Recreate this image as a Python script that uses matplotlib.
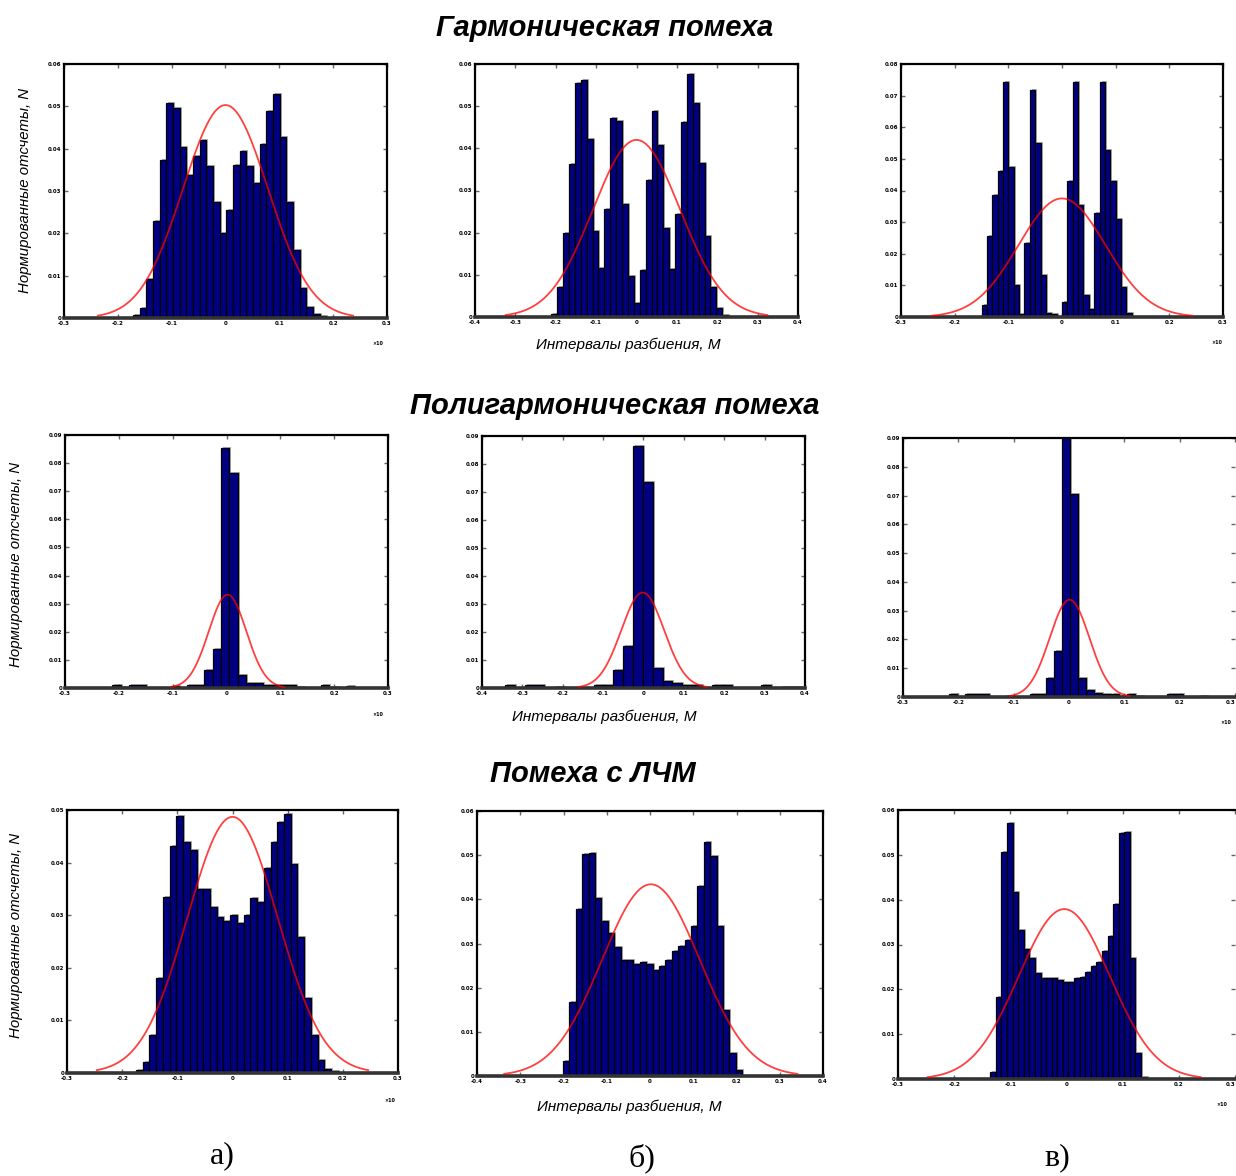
import numpy as np
import matplotlib
matplotlib.use('Agg')
import matplotlib.pyplot as plt
import matplotlib.transforms as mtransforms

# --- данные гистограмм (нормированные высоты столбцов) ---
# ряд 1: гармоническая помеха
h_1a = [0.06, 0.24, 0.93, 2.28, 3.74, 5.07, 4.97, 4.04, 3.38, 3.83, 4.20, 3.58, 2.73, 2.0, 2.56,
        3.62, 3.94, 3.58, 3.18, 4.10, 4.88, 5.28, 4.27, 2.73, 1.60, 0.70, 0.25, 0.10, 0.05]
h_1b = [0.08, 0.70, 2.0, 3.63, 5.54, 5.62, 4.23, 2.04, 1.17, 2.56, 4.73, 4.65, 2.69, 0.97, 0.33,
        1.11, 3.25, 4.89, 4.09, 2.12, 1.15, 2.45, 4.63, 5.76, 5.07, 3.66, 1.92, 0.70, 0.21, 0.04]
h_1c = [0.39, 2.55, 3.85, 4.61, 7.44, 4.73, 1.0, 0.10, 2.34, 7.18, 5.51, 1.32, 0.14, 0.10, 0.0,
        0.47, 4.30, 7.44, 3.54, 0.71, 0.26, 3.29, 7.44, 5.28, 4.30, 3.09, 0.95, 0.14]
# ряд 2: полигармоническая помеха
h_2a = [0.09, 0.05, 0.09, 0.09, 0, 0, 0, 0.06, 0, 0.09, 0.12, 0.65, 1.39, 8.53, 7.64, 0.47,
        0.18, 0.18, 0.09, 0.09, 0.09, 0.09, 0.05, 0, 0, 0.09, 0.05, 0, 0.06, 0]
h_2b = [0.1, 0, 0.1, 0.1, 0, 0.05, 0, 0, 0, 0.1, 0.1, 0.63, 1.51, 8.63, 7.36, 0.71, 0.24,
        0.18, 0.1, 0.1, 0, 0.1, 0.1, 0, 0, 0, 0.1, 0, 0.05, 0.05]
h_2c = [0.12, 0, 0.1, 0.12, 0.1, 0, 0, 0.05, 0, 0, 0.12, 0.12, 0.66, 1.59, 9.6, 7.06, 0.66,
        0.23, 0.14, 0.12, 0.12, 0.05, 0.12, 0.05, 0, 0, 0, 0.12, 0.12, 0, 0, 0.05]
# ряд 3: помеха с ЛЧМ
h_3a = [0.05, 0.21, 0.72, 1.81, 3.35, 4.32, 4.89, 4.40, 4.24, 3.49, 3.49, 3.16, 2.97, 2.89, 3.0,
        2.86, 3.0, 3.32, 3.25, 3.89, 4.39, 4.77, 4.92, 3.97, 2.58, 1.42, 0.72, 0.25, 0.08, 0.04]
h_3b = [0.35, 1.68, 3.79, 5.03, 5.06, 4.02, 3.52, 3.24, 2.92, 2.63, 2.63, 2.54, 2.57, 2.53,
        2.39, 2.48, 2.63, 2.83, 2.94, 3.07, 3.39, 4.30, 5.30, 4.97, 3.39, 1.49, 0.51, 0.13]
h_3c = [0.16, 1.84, 5.07, 5.70, 4.16, 3.32, 2.90, 2.69, 2.36, 2.26, 2.26, 2.25, 2.21, 2.16,
        2.16, 2.25, 2.27, 2.39, 2.51, 2.60, 2.85, 3.20, 3.90, 5.48, 5.50, 2.69, 0.57, 0.05]

heights = [h_1a, h_1b, h_1c, h_2a, h_2b, h_2c, h_3a, h_3b, h_3c]
bin_start = [-1.72, -2.11, -1.50, -2.12, -3.43, -2.17, -1.75, -2.01, -1.357]
bin_width = [0.124, 0.146, 0.100, 0.155, 0.244, 0.146, 0.122, 0.148, 0.0994]

# параметры нормальной кривой: пик, среднее, СКО
g_peak = [5.03, 4.2, 3.75, 3.32, 3.41, 3.38, 4.87, 4.34, 3.79]
g_mu = [0.0, 0.0, 0.0, 0.02, -0.02, 0.01, 0.0, 0.02, -0.04]
g_sigma = [0.79, 1.08, 0.81, 0.35, 0.53, 0.36, 0.82, 1.13, 0.81]

x_lim = [4 if i in (1, 4, 7) else 3 for i in range(9)]
y_lim = [6, 6, 8, 9, 9, 9, 5, 6, 6]

titles = ['Гармоническая помеха', 'Полигармоническая помеха', 'Помеха с ЛЧМ']
ylab = 'Нормированные отсчеты, N'
xlab = 'Интервалы разбиения, M'
sub_labels = ['а)', 'б)', 'в)']
exp_label = '×10'

W, H = 1236, 1176
fig = plt.figure(figsize=(W / 100, H / 100), dpi=100)

# рамки осей в пикселях: left, top, right, bottom
boxes = [(64, 64, 387, 318), (475, 64, 798, 317), (901, 64, 1223, 317),
         (65, 435, 388, 688), (482, 436, 805, 688), (903, 438, 1235, 697),
         (67, 810, 398, 1073), (477, 811, 823, 1076), (898, 810, 1235, 1079)]

for i in range(9):
    l, t, r, b = boxes[i]
    ax = fig.add_axes([l / W, 1 - b / H, (r - l) / W, (b - t) / H])
    h = np.array(heights[i])
    lefts = bin_start[i] + bin_width[i] * np.arange(len(h))
    shadow = mtransforms.offset_copy(ax.transData, fig=fig, x=2, y=1, units='dots')
    ax.bar(lefts, h, width=bin_width[i], align='edge', color='#b0b0b0',
           edgecolor='none', transform=shadow, zorder=1)
    ax.bar(lefts, h, width=bin_width[i], align='edge', color='#000080',
           edgecolor='black', linewidth=0.9, zorder=2)
    s = g_sigma[i]
    xx = np.linspace(g_mu[i] - 3 * s, g_mu[i] + 3 * s, 200)
    yy = g_peak[i] * np.exp(-(xx - g_mu[i]) ** 2 / (2 * s * s))
    ax.plot(xx, yy, color='red', lw=1.3, alpha=0.75, zorder=3)

    xl = x_lim[i]
    ax.set_xlim(-xl, xl)
    ax.set_ylim(0, y_lim[i])
    ax.set_xticks(np.arange(-xl, xl + 1))
    ax.set_yticks(np.arange(0, y_lim[i] + 1))
    ax.set_xticklabels(['%g' % (v / 10) for v in np.arange(-xl, xl + 1)])
    ax.set_yticklabels(['%g' % (v / 100) for v in np.arange(0, y_lim[i] + 1)])
    ax.tick_params(direction='in', top=True, right=True, length=3, width=1,
                   color='#666666', labelsize=4, pad=2)
    for lab in ax.get_xticklabels() + ax.get_yticklabels():
        lab.set_fontweight('bold')
    for sp in ['left', 'top', 'right']:
        ax.spines[sp].set_linewidth(1.6)
        ax.spines[sp].set_color('black')
    ax.spines['bottom'].set_linewidth(2.6)
    ax.spines['bottom'].set_color('#333333')
    if i in (5, 8):
        ax.spines['right'].set_visible(False)
        ax.get_xticklabels()[-1].set_horizontalalignment('right')

# подписи
title_pos = [(605, 28), (615, 406), (593, 774)]
for (x, y), txt in zip(title_pos, titles):
    fig.text(x / W, 1 - y / H, txt, ha='center', va='center', fontsize=21,
             fontweight='bold', fontstyle='italic', family='Liberation Sans')

ylab_pos = [(25, 190), (16, 564), (16, 935)]
for x, y in ylab_pos:
    fig.text(x / W, 1 - y / H, ylab, rotation=90, ha='center', va='center',
             fontsize=10.8, fontstyle='italic', family='Liberation Sans')

xlab_pos = [(628, 345), (604, 717), (629, 1107)]
for x, y in xlab_pos:
    fig.text(x / W, 1 - y / H, xlab, ha='center', va='center',
             fontsize=11, fontstyle='italic', family='Liberation Sans')

sub_pos = [(222, 1156), (642, 1158), (1057, 1158)]
for (x, y), txt in zip(sub_pos, sub_labels):
    fig.text(x / W, 1 - y / H, txt, ha='center', va='center', fontsize=23,
             family='Liberation Serif')

# мелкие множители масштаба у правого края осей
exp_pos = [(378, 343), (1217, 342), (378, 714), (1226, 722), (390, 1100), (1222, 1105)]
for x, y in exp_pos:
    fig.text(x / W, 1 - y / H, exp_label, ha='center', va='center', fontsize=3.5,
             fontweight='bold')

fig.savefig('out.png', dpi=100)
